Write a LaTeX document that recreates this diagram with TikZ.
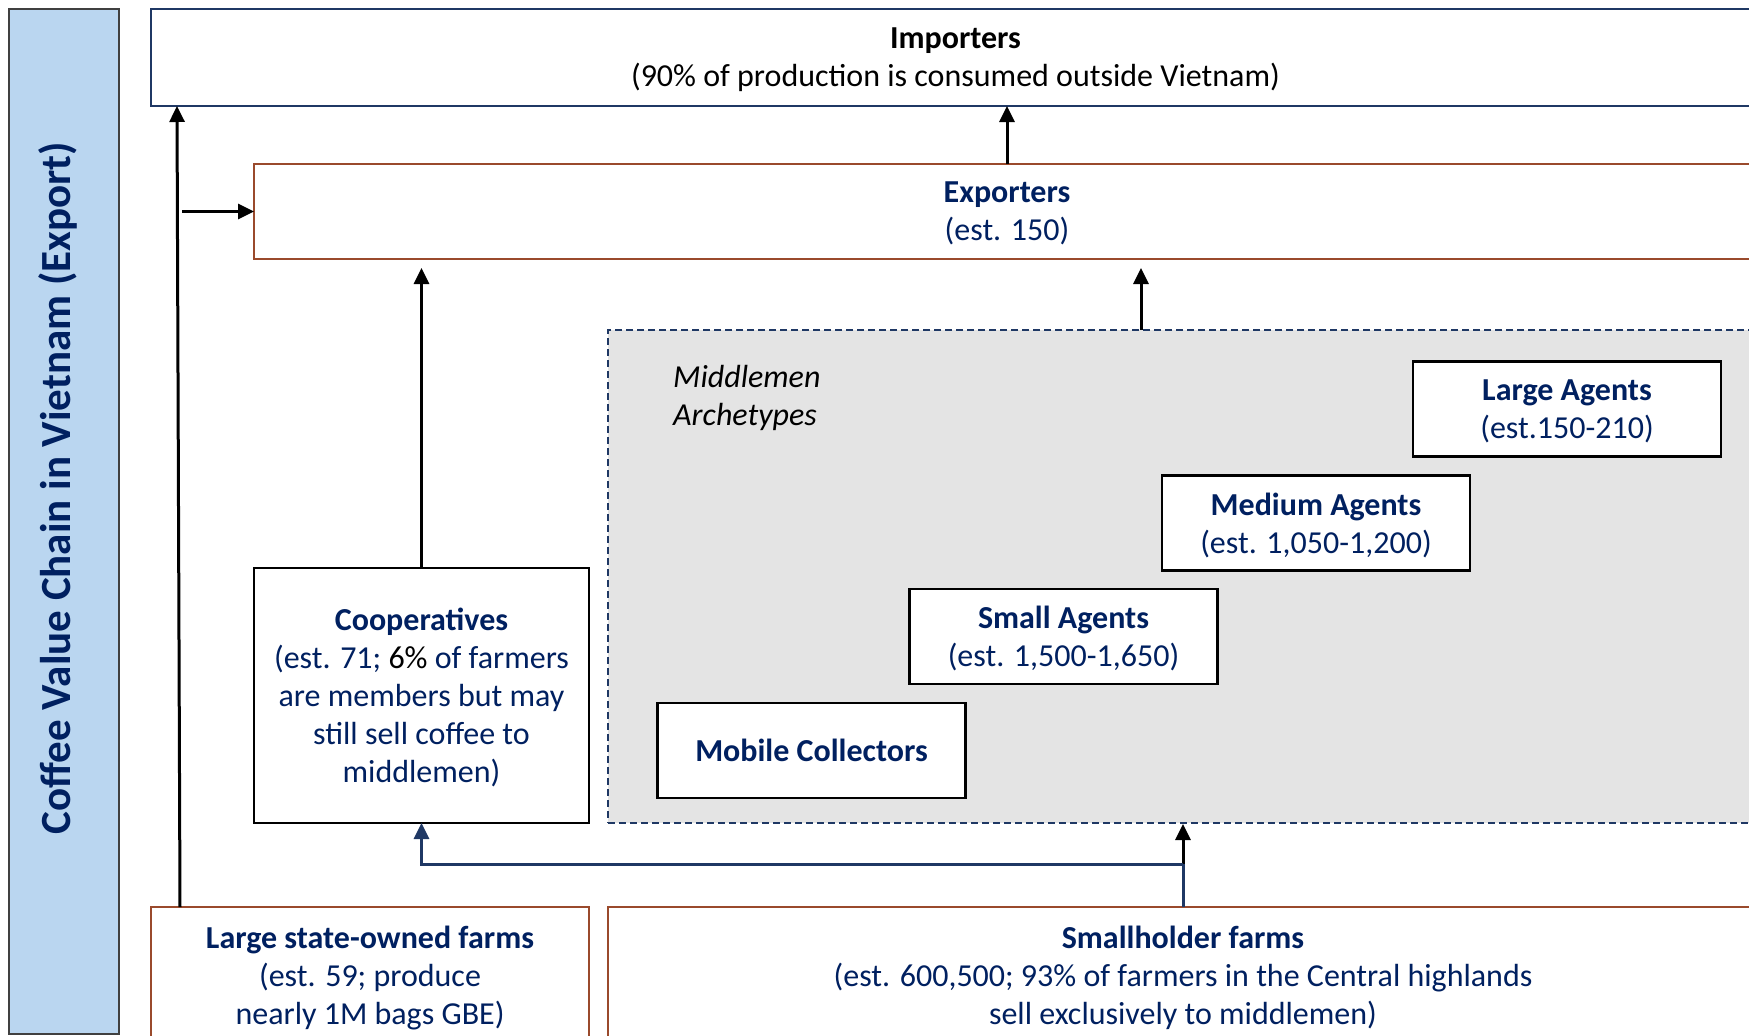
\documentclass[tikz,border=0pt]{standalone}
\usepackage{fontspec}
\setmainfont{Carlito}
\usetikzlibrary{arrows.meta}
\definecolor{navy}{HTML}{002060}
\definecolor{darkblue}{HTML}{1F3864}
\definecolor{sideblue}{HTML}{BAD6F0}
\definecolor{brownb}{HTML}{9A4A2C}
\definecolor{midgray}{HTML}{E4E4E4}
\definecolor{panelborder}{HTML}{404040}
\tikzset{
  txt/.style={font=\fontsize{32}{38}\selectfont, align=center, text=navy, text depth=0pt},
  boxbase/.style={txt, draw, line width=2.2pt, inner sep=0pt, outer sep=0pt},
  impbox/.style={boxbase, draw=darkblue, text=black},
  brownbox/.style={boxbase, draw=brownb},
  blackbox/.style={boxbase, draw=black, fill=white},
  agentbox/.style={blackbox, minimum width=308pt, minimum height=95pt},
  arr/.style={line width=3pt, draw=black, -{Triangle[length=16pt,width=15pt]}},
  navyline/.style={line width=3pt, draw=darkblue},
  navyarr/.style={line width=3pt, draw=darkblue, -{Triangle[length=16pt,width=15pt]}},
}
\begin{document}
\begin{tikzpicture}[x=1pt,y=-1pt]
\useasboundingbox (0,0) rectangle (1749,1036);
\clip (0,0) rectangle (1749,1036);
\fill[white] (0,0) rectangle (1749,1036);

% side panel
\node[draw=panelborder, fill=sideblue, line width=2pt, minimum width=110pt, minimum height=1025pt, inner sep=0pt] (side) at (64,521.5) {};
\node[rotate=90, font=\fontsize{43}{50}\selectfont\bfseries, text=navy] (title) at (58,488) {Coffee Value Chain in Vietnam (Export)};

% importers / exporters
\node[impbox, minimum width=1609pt, minimum height=97pt] (imp) at (955.5,57.5)
  {\textbf{Importers}\\(90\% of production is consumed outside Vietnam)};
\node[brownbox, minimum width=1506pt, minimum height=95pt] (exp) at (1007,211.5)
  {\textbf{Exporters}\\(est. 150)};

% middlemen area
\node[draw=darkblue, fill=midgray, dash pattern=on 7pt off 4pt, line width=2pt, minimum width=1152pt, minimum height=493pt, inner sep=0pt] (mid) at (1184,576.5) {};
\node[font=\fontsize{32}{38}\selectfont\itshape, align=left, anchor=west, inner sep=0pt, text depth=0pt] (midlabel) at (673,395) {Middlemen\\Archetypes};

\node[agentbox] (large) at (1567,409) {\textbf{Large Agents}\\(est.150-210)};
\node[agentbox] (medium) at (1316,523) {\textbf{Medium Agents}\\(est. 1,050-1,200)};
\node[agentbox] (small) at (1063.5,636.5) {\textbf{Small Agents}\\(est. 1,500-1,650)};
\node[agentbox] (mobile) at (811.5,750.5) {\textbf{Mobile Collectors}};

% cooperatives
\node[blackbox, minimum width=335pt, minimum height=255pt] (coop) at (421.5,695.5)
  {\textbf{Cooperatives}\\(est. 71; {\color{black}6\%} of farmers\\are members but may\\still sell coffee to\\middlemen)};

% farms
\node[brownbox, minimum width=438pt, minimum height=136pt] (lsf) at (370,975)
  {\textbf{Large state-owned farms}\\(est. 59; produce\\nearly 1M bags GBE)};
\node[brownbox, minimum width=1150pt, minimum height=136pt] (sh) at (1183,975)
  {\textbf{Smallholder farms}\\(est. 600,500; 93\% of farmers in the Central highlands\\sell exclusively to middlemen)};

% connectors
\draw[arr] ([xshift=29pt]lsf.north west) -- ([xshift=26pt]imp.south west);
\coordinate (hstart) at (182,211.5);
\draw[arr] (hstart) -- (exp.west);
\draw[arr] (exp.north) -- (exp.north |- imp.south);
\draw[arr] (coop.north) -- ([yshift=-9pt]coop.north |- exp.south);
\coordinate (midtop) at (1141,330);
\draw[arr] (midtop) -- ([yshift=-9pt]midtop |- exp.south);
\coordinate (j) at (1183,864);
\draw[navyline] (sh.north) -- (j);
\draw[arr] (j) -- (j |- mid.south);
\draw[navyarr] (j) -- (j -| coop.south) -- (coop.south);
\end{tikzpicture}
\end{document}
